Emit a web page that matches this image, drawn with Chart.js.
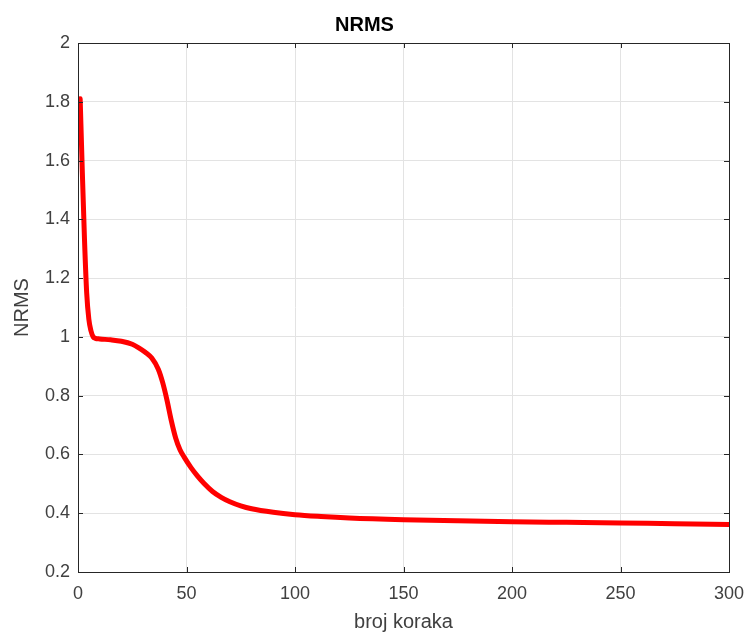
<!DOCTYPE html>
<html>
<head>
<meta charset="utf-8">
<script src="https://cdn.jsdelivr.net/npm/chart.js@4/dist/chart.umd.min.js"></script>
<style>
  html, body { margin: 0; padding: 0; background: #fff; }
  #wrap { width: 748px; height: 637px; }
</style>
</head>
<body>
<div id="wrap"><canvas id="nrms"></canvas></div>
<script>
// ---------- DATA ----------
const steps = [1, 2, 3, 4, 5, 6, 7, 8, 10, 15, 20, 25, 28, 31, 34, 37, 39, 41, 43, 45,
  47, 49, 52, 55, 58, 62, 66, 70, 75, 80, 90, 100, 112, 125, 150, 175, 200, 225, 250, 275, 300];
const nrmsValues = [1.81, 1.56, 1.33, 1.15, 1.06, 1.02, 1.0, 0.995, 0.993, 0.99, 0.985, 0.975,
  0.963, 0.948, 0.928, 0.89, 0.845, 0.785, 0.715, 0.656, 0.616, 0.59, 0.556, 0.527, 0.502, 0.474,
  0.454, 0.439, 0.425, 0.415, 0.403, 0.395, 0.389, 0.384, 0.378, 0.374, 0.371, 0.369, 0.367, 0.364, 0.362];
const xTicks = [0, 50, 100, 150, 200, 250, 300];
const yTicks = [0.2, 0.4, 0.6, 0.8, 1, 1.2, 1.4, 1.6, 1.8, 2];

const FONT = "'Liberation Sans', Arial, Helvetica, sans-serif";
const AXIS_COLOR = "#262626";
const TEXT_COLOR = "#404040";

// ---------- BOX + INWARD TICKS (matlab style) ----------
const boxPlugin = {
  id: "box",
  afterDatasetsDraw(chart) {
    const { ctx, chartArea: a, scales } = chart;
    ctx.save();
    ctx.strokeStyle = AXIS_COLOR;
    ctx.lineWidth = 1;
    const L = 5;
    ctx.beginPath();
    xTicks.forEach(v => {
      const px = Math.round(scales.x.getPixelForValue(v)) + 0.5;
      ctx.moveTo(px, a.bottom); ctx.lineTo(px, a.bottom - L);
      ctx.moveTo(px, a.top); ctx.lineTo(px, a.top + L);
    });
    yTicks.forEach(v => {
      const py = Math.round(scales.y.getPixelForValue(v)) + 0.5;
      ctx.moveTo(a.left, py); ctx.lineTo(a.left + L, py);
      ctx.moveTo(a.right, py); ctx.lineTo(a.right - L, py);
    });
    ctx.stroke();
    ctx.strokeRect(Math.round(a.left) + 0.5, Math.round(a.top) + 0.5,
      Math.round(a.right - a.left), Math.round(a.bottom - a.top));
    ctx.restore();
  }
};

// ---------- CHART ----------
new Chart(document.getElementById("nrms"), {
  type: "line",
  data: {
    datasets: [{
      data: steps.map((s, i) => ({ x: s, y: nrmsValues[i] })),
      borderColor: "#ff0000",
      borderWidth: 5,
      pointRadius: 0,
      fill: false,
      cubicInterpolationMode: "monotone",
      borderCapStyle: "round",
      borderJoinStyle: "round",
    }],
  },
  options: {
    responsive: true,
    maintainAspectRatio: false,
    animation: false,
    layout: { padding: { left: 0, right: 19, top: 0, bottom: 0 } },
    plugins: {
      legend: { display: false },
      tooltip: { enabled: false },
      title: {
        display: true,
        text: "NRMS",
        color: "#000",
        font: { family: FONT, size: 20, weight: "bold" },
        padding: { top: 13, bottom: 6 },
      },
    },
    scales: {
      x: {
        type: "linear",
        min: 0,
        max: 300,
        afterBuildTicks: s => { s.ticks = xTicks.map(v => ({ value: v })); },
        afterFit: s => { s.height = 65; s.paddingLeft = 0; s.paddingRight = 0; },
        grid: { color: "#e3e3e3", drawTicks: false },
        border: { display: false },
        ticks: { color: TEXT_COLOR, padding: 11, font: { family: FONT, size: 18 }, maxRotation: 0 },
        title: {
          display: true,
          text: "broj koraka",
          color: TEXT_COLOR,
          font: { family: FONT, size: 20 },
          padding: { top: 0, bottom: 3 },
        },
      },
      y: {
        min: 0.2,
        max: 2,
        afterBuildTicks: s => { s.ticks = yTicks.map(v => ({ value: v })); },
        afterFit: s => { s.width = 78; s.paddingTop = 0; s.paddingBottom = 0; },
        grid: { color: "#e3e3e3", drawTicks: false },
        border: { display: false },
        ticks: {
          color: TEXT_COLOR,
          padding: 8,
          font: { family: FONT, size: 18 },
          callback: v => String(Number(v.toFixed(1))),
        },
        title: {
          display: true,
          text: "NRMS",
          color: TEXT_COLOR,
          font: { family: FONT, size: 20 },
          padding: { top: 10, bottom: 0 },
        },
      },
    },
  },
  plugins: [boxPlugin],
});
</script>
</body>
</html>
